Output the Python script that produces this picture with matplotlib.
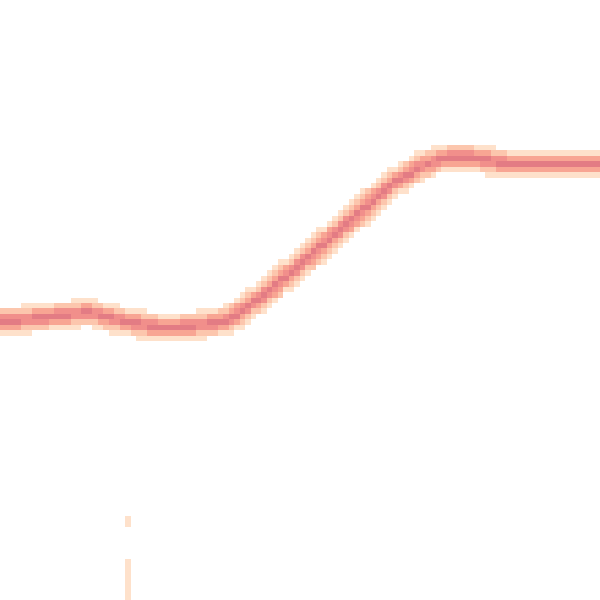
import numpy as np
import matplotlib
matplotlib.use("Agg")
import matplotlib.pyplot as plt
from matplotlib.colors import ListedColormap, BoundaryNorm

# Centre row of the band for each of the 110 histogram columns (row units, 0 = top)
center_rows = [
    58.8, 58.8, 58.8, 58.7, 58.6, 58.5, 58.4, 58.3, 58.2, 58.0,
    57.9, 57.8, 57.7, 57.6, 57.5, 57.4, 57.4, 57.5, 57.8, 58.1,
    58.4, 58.6, 58.8, 59.0, 59.2, 59.4, 59.6, 59.8, 59.9, 60.0,
    60.0, 60.0, 60.0, 59.9, 59.8, 59.7, 59.6, 59.5, 59.3, 59.2,
    59.0, 58.7, 58.2, 57.6, 57.0, 56.2, 55.4, 54.8, 54.0, 53.3,
    52.4, 51.5, 50.6, 49.9, 49.0, 48.1, 47.3, 46.5, 45.5, 44.7,
    43.8, 42.9, 42.0, 41.1, 40.3, 39.4, 38.5, 37.6, 36.7, 35.9,
    35.0, 34.2, 33.4, 32.8, 32.2, 31.6, 31.0, 30.5, 30.0, 29.6,
    29.2, 29.0, 28.9, 28.8, 28.8, 28.8, 28.9, 29.0, 29.2, 29.4,
    29.6, 29.8, 29.9, 30.0, 30.1, 30.1, 30.1, 30.1, 30.1, 30.1,
    30.1, 30.1, 30.1, 30.1, 30.1, 30.1, 30.1, 30.1, 30.1, 30.1,
]
# isolated sparse cells near the bottom: (column, row, level)
stray_cols = [23, 23, 23, 23, 23, 23, 23, 23, 23, 23]
stray_rows = [95, 96, 103, 104, 105, 106, 107, 108, 109, 110]
stray_levels = [1, 1, 1, 1, 1, 1, 1, 1, 1, 1]

level_colors = ['#fee1cb', '#fcc6ad', '#f8a593', '#f18f8b', '#e37c84']

ncol, nrow = 110, 111
s = 600 / 110.0
H = np.zeros((nrow, ncol))
c = np.array(center_rows)
slope = np.gradient(c)
for j in range(ncol):
    cosf = 1.0 / np.sqrt(1.0 + slope[j] ** 2)
    for k in range(nrow):
        d = abs((k + 0.05) - c[j]) * cosf
        if d < 0.4:
            H[k, j] = 5
        elif d < 0.85:
            H[k, j] = 4
        elif d < 1.35:
            H[k, j] = 3
        elif d < 1.9:
            H[k, j] = 2
        elif d < 2.6:
            H[k, j] = 1
for cc, rr, lv in zip(stray_cols, stray_rows, stray_levels):
    H[rr, cc] = lv

xe = np.arange(ncol + 1) * s - 0.4
ye = (np.arange(nrow + 1) - 0.45) * s

fig = plt.figure(figsize=(6, 6), dpi=100)
ax = fig.add_axes([0, 0, 1, 1])
cmap = ListedColormap(level_colors)
norm = BoundaryNorm([0.5, 1.5, 2.5, 3.5, 4.5, 5.5], cmap.N)
ax.pcolormesh(xe, ye, np.ma.masked_equal(H, 0), cmap=cmap, norm=norm)
ax.set_xlim(0, 600)
ax.set_ylim(600, 0)
ax.axis('off')
fig.savefig('out.png', dpi=100, facecolor='white')
